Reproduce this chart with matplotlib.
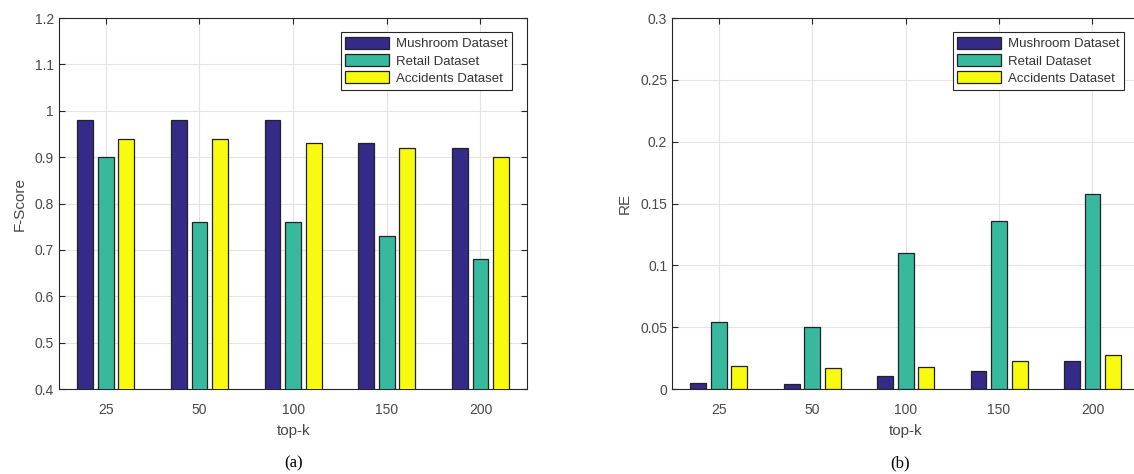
import matplotlib.pyplot as plt
import numpy as np

plt.rcParams['font.family'] = ['Liberation Sans', 'DejaVu Sans']

# data
topk = ['25', '50', '100', '150', '200']
series = ['Mushroom Dataset', 'Retail Dataset', 'Accidents Dataset']
colors = ['#352a87', '#38b99e', '#f9fb0e']

fscore_mushroom = [0.98, 0.98, 0.98, 0.93, 0.92]
fscore_retail = [0.90, 0.76, 0.76, 0.73, 0.68]
fscore_accidents = [0.94, 0.94, 0.93, 0.92, 0.90]

re_mushroom = [0.005, 0.004, 0.011, 0.015, 0.023]
re_retail = [0.054, 0.050, 0.110, 0.136, 0.158]
re_accidents = [0.019, 0.017, 0.018, 0.023, 0.028]

fig = plt.figure(figsize=(11.34, 4.74), dpi=100)
# right panel runs slightly past the picture edge, as in the reference
ax1 = fig.add_axes([0.052, 0.179, 0.413, 0.783])
ax2 = fig.add_axes([0.5926, 0.179, 0.412, 0.783])

x = np.arange(1, len(topk) + 1)
offset = 0.22
width = 0.17
txt = '#484848'


def draw(ax, data, ylim, yticks, ylabel, caption, cap_x, right_ticks):
    for i, (vals, name, c) in enumerate(zip(data, series, colors)):
        ax.bar(x + (i - 1) * offset, vals, width, color=c, edgecolor='#222222',
               linewidth=0.9, label=name, zorder=3)
    ax.set_xlim(0.5, 5.5)
    ax.set_ylim(*ylim)
    ax.set_xticks(x)
    ax.set_xticklabels(topk)
    ax.set_yticks(yticks)
    ax.set_yticklabels(['%g' % t for t in yticks])
    ax.grid(True, color='#e3e3e3', linewidth=0.8, zorder=0)
    ax.tick_params(direction='in', top=True, right=right_ticks, labelsize=10,
                   labelcolor=txt, color='#262626', length=4)
    ax.tick_params(axis='x', pad=10)
    for s in ax.spines.values():
        s.set_color('#262626')
        s.set_linewidth(0.8)
    ax.set_xlabel('top-k', fontsize=11, color=txt, labelpad=5)
    ax.set_ylabel(ylabel, fontsize=11, color=txt, labelpad=6)
    leg = ax.legend(loc='upper right', bbox_to_anchor=(0.967, 0.962), borderaxespad=0,
                    fontsize=9.5, fancybox=False, framealpha=1, edgecolor='#262626',
                    handlelength=3.3, handleheight=1.0, borderpad=0.35,
                    labelspacing=0.3, handletextpad=0.5)
    leg.get_frame().set_linewidth(0.8)
    for t in leg.get_texts():
        t.set_color('#333333')
    fig.text(cap_x, 0.023, caption, ha='center', va='center',
             fontsize=12, family='Liberation Serif')


draw(ax1, [fscore_mushroom, fscore_retail, fscore_accidents], (0.4, 1.2),
     np.round(np.arange(0.4, 1.21, 0.1), 1), 'F-Score', '(a)', 294 / 1134, True)
draw(ax2, [re_mushroom, re_retail, re_accidents], (0, 0.3),
     [0, 0.05, 0.1, 0.15, 0.2, 0.25, 0.3], 'RE', '(b)', 900 / 1134, False)

fig.savefig('out.png', dpi=100)
